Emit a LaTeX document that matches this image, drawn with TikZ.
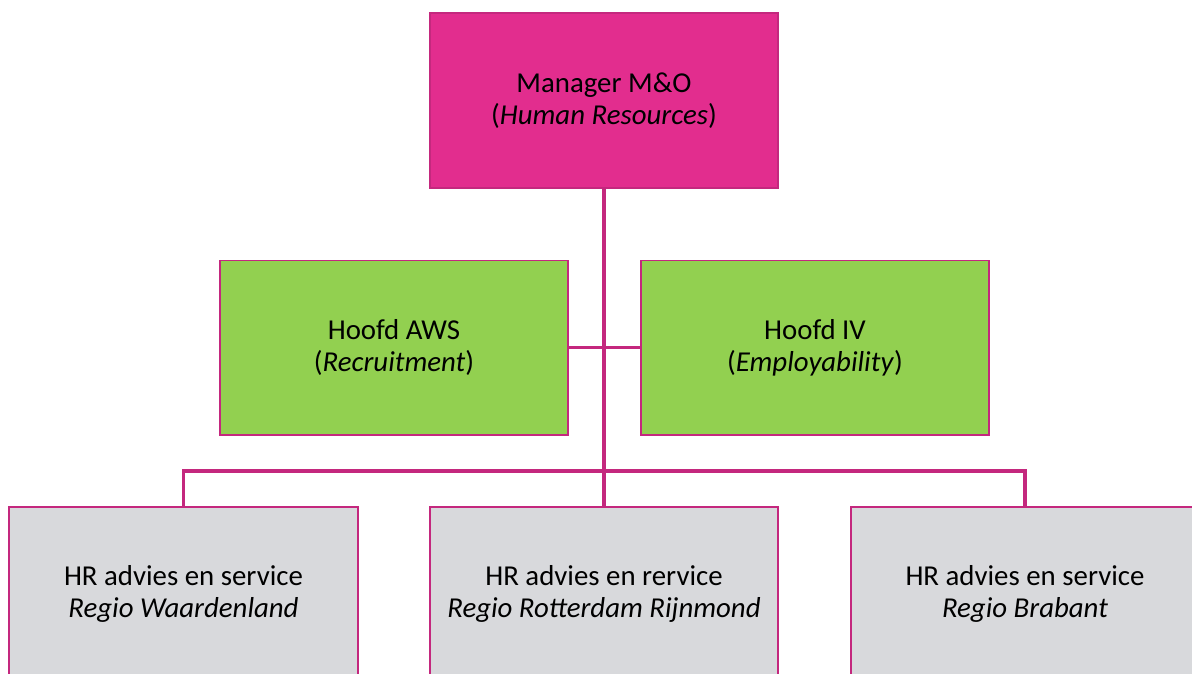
\documentclass[tikz,border=0pt]{standalone}
\usepackage{fontspec}
\setmainfont{Carlito}
\definecolor{mgfill}{HTML}{E22D8E}
\definecolor{mgline}{HTML}{C4287E}
\definecolor{grfill}{HTML}{92D050}
\definecolor{gyfill}{HTML}{D8D9DC}
\tikzset{
  box/.style={draw=mgline, line width=1.4pt, minimum width=8.7cm, minimum height=4.35cm,
    align=center, font=\fontsize{20.5}{23}\selectfont, inner sep=0pt},
  link/.style={draw=mgline, line width=2.2pt}
}
\begin{document}
\begin{tikzpicture}[x=0.025cm,y=-0.025cm]
  \useasboundingbox (0,0) rectangle (1192,673);
  \begin{scope}
  \clip (0,0) rectangle (1192,673);
  % top
  \node[box, fill=mgfill] (mgr) at (604,100.5) {Manager M\&O\\(\textit{Human Resources})};
  % middle
  \node[box, fill=grfill] (aws) at (394,347.5) {Hoofd AWS\\(\textit{Recruitment})};
  \node[box, fill=grfill] (iv) at (815,347.5) {Hoofd IV\\(\textit{Employability})};
  % bottom
  \node[box, fill=gyfill] (waard) at (183.5,594) {HR advies en service\\\textit{Regio Waardenland}};
  \node[box, fill=gyfill] (rijn) at (604,594) {HR advies en rervice\\\textit{Regio Rotterdam Rijnmond}};
  \node[box, fill=gyfill] (brab) at (1025,594) {HR advies en service\\\textit{Regio Brabant}};
  \coordinate (bar) at (604,471);
  % lines
  \draw[link] (mgr.south) -- (rijn.north);
  \draw[link] (aws.east) -- (iv.west);
  \draw[link] (waard.north) -- (waard.north |- bar) -- (brab.north |- bar) -- (brab.north);
  \end{scope}
\end{tikzpicture}
\end{document}
